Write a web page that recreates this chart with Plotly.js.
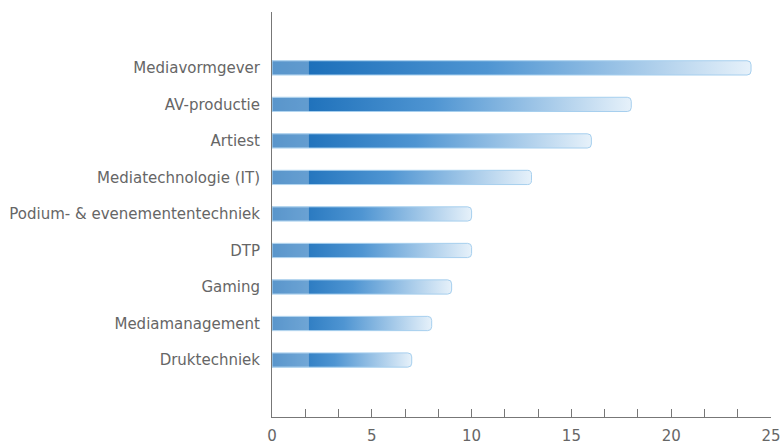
<!DOCTYPE html>
<html>
<head>
<meta charset="utf-8">
<script src="https://cdn.plot.ly/plotly-3.0.1.min.js"></script>
<style>html,body{margin:0;padding:0;background:#fff;}#chart{width:781px;height:444px;}</style>
</head>
<body>
<div id="chart"></div>
<script>
var categories = ["Druktechniek","Mediamanagement","Gaming","DTP","Podium- & evenemententechniek","Mediatechnologie (IT)","Artiest","AV-productie","Mediavormgever"];
var values = [7, 8, 9, 10, 10, 13, 16, 18, 24];
var xTickVals = [0, 5/3, 10/3, 5, 20/3, 25/3, 10, 35/3, 40/3, 15, 50/3, 55/3, 20, 65/3, 70/3, 25];
var xTickText = ["0","","","5","","","10","","","15","","","20","","","25"];
var glossLength = 1.85;
var glossValues = categories.map(function(){ return glossLength; });

var font = "DejaVu Sans, sans-serif";

var traces = [
  {
    type: 'bar', orientation: 'h', y: categories, x: values,
    width: 0.39,
    marker: {color: '#4a90d0', line: {color: '#a6cfee', width: 1}, cornerradius: 4},
    hoverinfo: 'none'
  },
  {
    type: 'bar', orientation: 'h', y: categories, x: glossValues,
    width: 0.39,
    marker: {color: 'rgba(255,255,255,0.3)', line: {width: 0}, cornerradius: 7},
    hoverinfo: 'none'
  }
];

var layout = {
  width: 781, height: 444,
  margin: {l: 272, r: 10, t: 12, b: 27},
  paper_bgcolor: '#fff', plot_bgcolor: '#fff',
  barmode: 'overlay',
  showlegend: false,
  font: {family: font, size: 15, color: '#666'},
  xaxis: {
    range: [0, 25], tickmode: 'array', tickvals: xTickVals, ticktext: xTickText,
    ticks: 'inside', ticklen: 8, tickcolor: '#777', tickwidth: 1,
    showline: true, linecolor: '#777', linewidth: 1,
    showgrid: false, zeroline: false, ticklabelstandoff: 5,
    tickfont: {family: font, size: 15, color: '#666'}
  },
  yaxis: {
    type: 'category', range: [-1.56, 9.53],
    showline: true, linecolor: '#777', linewidth: 1,
    showgrid: false, zeroline: false, ticks: '',
    ticklabelstandoff: 8,
    tickfont: {family: font, size: 15, color: '#666'}
  }
};

Plotly.newPlot('chart', traces, layout, {staticPlot: true, displayModeBar: false}).then(function(gd){
  var svg = gd.querySelector('svg.main-svg');
  var ns = 'http://www.w3.org/2000/svg';
  var defs = svg.querySelector('defs') || svg.insertBefore(document.createElementNS(ns,'defs'), svg.firstChild);
  var grad = document.createElementNS(ns, 'linearGradient');
  grad.setAttribute('id', 'barGrad');
  grad.setAttribute('x1', '0'); grad.setAttribute('y1', '0');
  grad.setAttribute('x2', '1'); grad.setAttribute('y2', '0');
  [['0', '#1268b5'], ['0.45', '#4f95d2'], ['1', '#e6f1fa']].forEach(function(s){
    var st = document.createElementNS(ns, 'stop');
    st.setAttribute('offset', s[0]); st.setAttribute('stop-color', s[1]);
    grad.appendChild(st);
  });
  defs.appendChild(grad);
  var traceGroups = gd.querySelectorAll('.barlayer .trace');
  if (traceGroups.length) {
    traceGroups[0].querySelectorAll('path').forEach(function(p){
      p.style.fill = 'url(#barGrad)';
      p.style.fillOpacity = 1;
    });
  }
});
</script>
</body>
</html>
